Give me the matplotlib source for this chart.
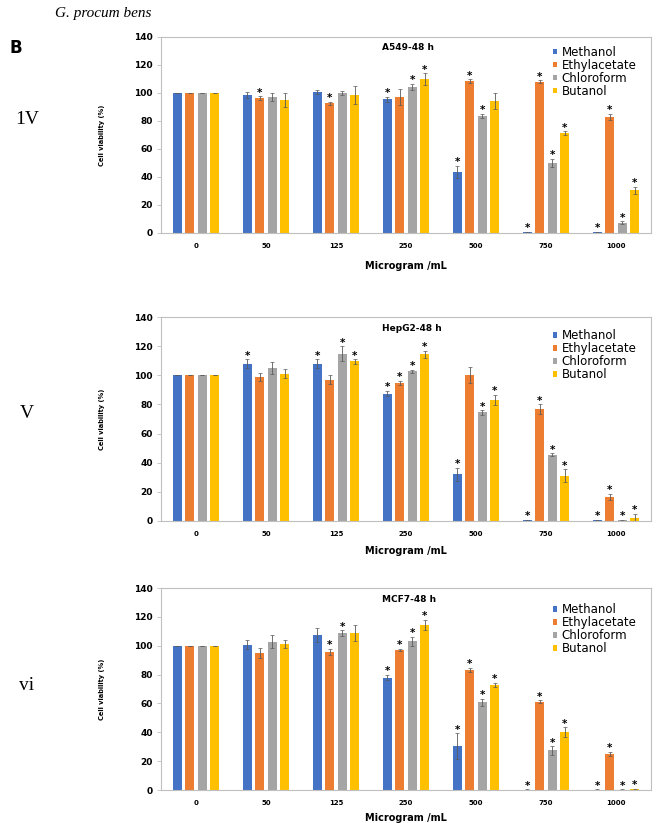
import matplotlib
matplotlib.use("Agg")
import matplotlib.pyplot as plt
import numpy as np

doses = ["0", "50", "125", "250", "500", "750", "1000"]
series = ["Methanol", "Ethylacetate", "Chloroform", "Butanol"]
colors = ["#4472C4", "#ED7D31", "#A5A5A5", "#FFC000"]

# A549-48 h
a549_meth = [100, 98.6, 100.5, 95.5, 43.5, 0.5, 0.5]
a549_ethy = [100, 96.2, 92.7, 97.2, 108.5, 108, 83]
a549_chlo = [100, 97, 99.8, 104.5, 83.7, 50, 7.5]
a549_buta = [100, 94.8, 98.8, 110, 94.3, 71.2, 30.5]
a549_err_meth = [0, 2, 1.5, 2, 4.5, 0.3, 0.3]
a549_err_ethy = [0, 1.5, 1, 6, 1.5, 1, 2]
a549_err_chlo = [0, 3, 1.5, 2, 1.5, 3, 1]
a549_err_buta = [0, 5, 6.5, 4, 6, 1.5, 2.5]
a549_star_meth = [0, 0, 0, 1, 1, 1, 1]
a549_star_ethy = [0, 1, 1, 0, 1, 1, 1]
a549_star_chlo = [0, 0, 0, 1, 1, 1, 1]
a549_star_buta = [0, 0, 0, 1, 0, 1, 1]

# HepG2-48 h
hepg2_meth = [100, 108, 108, 87.5, 32, 0.5, 0.5]
hepg2_ethy = [100, 98.9, 97, 94.8, 100, 76.6, 16.5]
hepg2_chlo = [100, 105, 114.8, 102.7, 74.5, 45.5, 0.5]
hepg2_buta = [100, 101.1, 109.5, 114.3, 83.2, 31, 2]
hepg2_err_meth = [0, 3, 3, 2, 4.5, 0.3, 0.3]
hepg2_err_ethy = [0, 2.5, 3, 1.5, 5.5, 3.5, 2]
hepg2_err_chlo = [0, 4, 5, 1, 1.5, 1, 0.3]
hepg2_err_buta = [0, 3, 1.5, 2.5, 3.5, 4.5, 3]
hepg2_star_meth = [0, 1, 1, 1, 1, 1, 1]
hepg2_star_ethy = [0, 0, 0, 1, 0, 1, 1]
hepg2_star_chlo = [0, 0, 1, 1, 1, 1, 1]
hepg2_star_buta = [0, 0, 1, 1, 1, 1, 1]

# MCF7-48 h
mcf7_meth = [100, 100.7, 107.4, 77.9, 30.2, 0.3, 0.3]
mcf7_ethy = [100, 94.9, 95.8, 97, 83, 61.2, 24.9]
mcf7_chlo = [100, 102.8, 108.6, 103, 60.9, 27.4, 0.3]
mcf7_buta = [100, 101.2, 108.6, 114.4, 73, 40, 0.5]
mcf7_err_meth = [0, 3, 5, 2, 9, 0.2, 0.2]
mcf7_err_ethy = [0, 3.5, 2, 1, 1.5, 1, 1.5]
mcf7_err_chlo = [0, 4.5, 2, 3, 2.5, 3, 0.2]
mcf7_err_buta = [0, 3, 5.5, 3.5, 1.5, 3.5, 0.3]
mcf7_star_meth = [0, 0, 0, 1, 1, 1, 1]
mcf7_star_ethy = [0, 0, 1, 1, 1, 1, 1]
mcf7_star_chlo = [0, 0, 1, 1, 1, 1, 1]
mcf7_star_buta = [0, 0, 0, 1, 1, 1, 1]

panels = [
    ("A549-48 h", "1V",
     [a549_meth, a549_ethy, a549_chlo, a549_buta],
     [a549_err_meth, a549_err_ethy, a549_err_chlo, a549_err_buta],
     [a549_star_meth, a549_star_ethy, a549_star_chlo, a549_star_buta]),
    ("HepG2-48 h", "V",
     [hepg2_meth, hepg2_ethy, hepg2_chlo, hepg2_buta],
     [hepg2_err_meth, hepg2_err_ethy, hepg2_err_chlo, hepg2_err_buta],
     [hepg2_star_meth, hepg2_star_ethy, hepg2_star_chlo, hepg2_star_buta]),
    ("MCF7-48 h", "vi",
     [mcf7_meth, mcf7_ethy, mcf7_chlo, mcf7_buta],
     [mcf7_err_meth, mcf7_err_ethy, mcf7_err_chlo, mcf7_err_buta],
     [mcf7_star_meth, mcf7_star_ethy, mcf7_star_chlo, mcf7_star_buta]),
]

W, H = 664, 823
fig = plt.figure(figsize=(W / 100, H / 100), dpi=100)
fig.patch.set_facecolor("white")

# axes boxes in pixels: (left, top, right, bottom)
boxes = [(161, 37, 651, 233), (161, 317, 651, 521), (161, 588, 651, 790)]
leg_y = [0.955, 0.94, 0.925]
xlab_px = [266, 551, 818]
side_y = [120, 413, 685]

x = np.arange(len(doses))
bw = 0.13
pitch = 0.18
offs = (np.arange(4) - 1.5) * pitch

for (title, side, vals, errs, stars), (l, t, r, b), ly, xl, sy in zip(
        panels, boxes, leg_y, xlab_px, side_y):
    ax = fig.add_axes([l / W, 1 - b / H, (r - l) / W, (b - t) / H])
    for i in range(4):
        ax.bar(x + offs[i], vals[i], bw, color=colors[i], label=series[i],
               yerr=errs[i], ecolor="#5a5a5a",
               error_kw=dict(lw=0.6, capsize=1.2, capthick=0.5), zorder=2)
        for j in range(len(doses)):
            if stars[i][j]:
                ax.text(x[j] + offs[i], vals[i][j] + errs[i][j] + 2.5, "*",
                        ha="center", va="center", fontsize=7.5,
                        fontweight="bold", color="black")
    ax.set_ylim(0, 140)
    ax.set_xlim(-0.5, len(doses) - 0.5)
    ax.set_yticks(np.arange(0, 141, 20))
    ax.set_xticks(x)
    ax.set_xticklabels(doses)
    ax.tick_params(axis="x", length=0, labelsize=5, pad=7)
    ax.tick_params(axis="y", length=3, width=0.6, color="#BFBFBF",
                   labelsize=6.5, pad=3)
    for lab in ax.get_xticklabels() + ax.get_yticklabels():
        lab.set_fontweight("bold")
    for s in ax.spines.values():
        s.set_color("#BFBFBF")
        s.set_linewidth(0.8)
    ax.text(0.452, 0.945, title, transform=ax.transAxes, ha="left",
            va="center", fontsize=6.5, fontweight="bold")
    ax.text(-0.12, 0.5, "Cell viability (%)", transform=ax.transAxes,
            rotation=90, ha="center", va="center", fontsize=4.8,
            fontweight="bold")
    ax.text(0.5, -(xl - b) / (b - t), "Microgram /mL", transform=ax.transAxes,
            ha="center", va="center", fontsize=7, fontweight="bold")
    leg = ax.legend(loc="upper left", bbox_to_anchor=(0.8, ly), frameon=False,
                    fontsize=8.5, handlelength=0.35, handleheight=0.35,
                    handletextpad=0.4, labelspacing=0.0, borderaxespad=0,
                    borderpad=0)
    fig.text(27 / W, 1 - sy / H, side, ha="center", va="center",
             fontsize=14, family="Liberation Serif")

fig.text(16 / W, 1 - 48 / H, "B", ha="center", va="center", fontsize=12,
         fontweight="bold")
fig.text(55 / W, 1 - 13 / H, "G. procum bens", ha="left", va="center",
         fontsize=11, style="italic", family="Liberation Serif")

fig.savefig("out.png", dpi=100, facecolor="white")
